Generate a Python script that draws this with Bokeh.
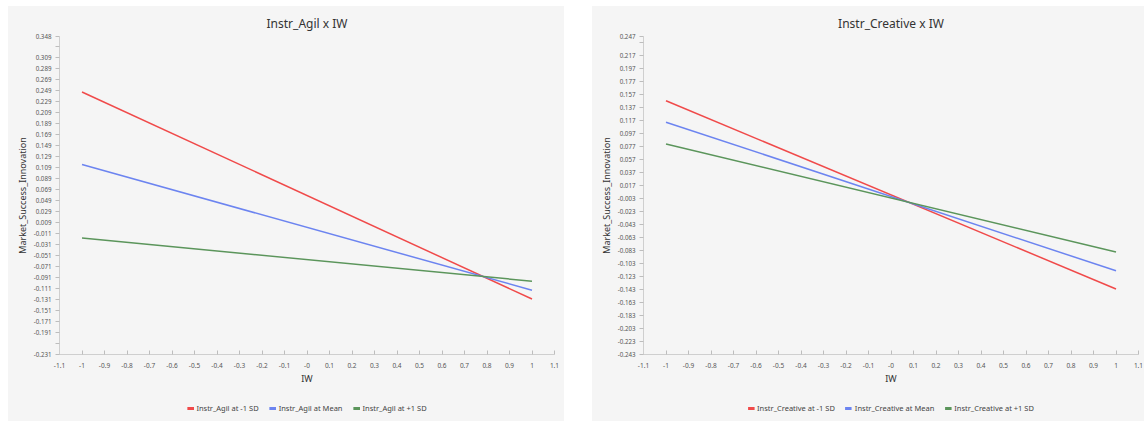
from bokeh.plotting import figure
from bokeh.layouts import row, column, Spacer
from bokeh.models import FixedTicker, Legend, LegendItem, Range1d
from bokeh.embed import file_html
from bokeh.resources import INLINE

# ---- data ----
iw = [-1, 1]

agil_low = [0.247, -0.130]
agil_mean = [0.115, -0.114]
agil_high = [-0.019, -0.0975]

creative_low = [0.148, -0.142]
creative_mean = [0.115, -0.114]
creative_high = [0.0815, -0.085]

x_ticks = [-1.1, -1.0, -0.9, -0.8, -0.7, -0.6, -0.5, -0.4, -0.3, -0.2, -0.1, 0.0,
           0.1, 0.2, 0.3, 0.4, 0.5, 0.6, 0.7, 0.8, 0.9, 1.0, 1.1]
x_labels = ["-1.1", "-1", "-0.9", "-0.8", "-0.7", "-0.6", "-0.5", "-0.4", "-0.3", "-0.2", "-0.1", "-0",
            "0.1", "0.2", "0.3", "0.4", "0.5", "0.6", "0.7", "0.8", "0.9", "1", "1.1"]

agil_y_ticks = [-0.231, -0.211, -0.191, -0.171, -0.151, -0.131, -0.111, -0.091, -0.071, -0.051,
                -0.031, -0.011, 0.009, 0.029, 0.049, 0.069, 0.089, 0.109, 0.129, 0.149,
                0.169, 0.189, 0.209, 0.229, 0.249, 0.269, 0.289, 0.309, 0.329, 0.348]
agil_y_labels = ["-0.231", " ", "-0.191", "-0.171", "-0.151", "-0.131", "-0.111", "-0.091", "-0.071", "-0.051",
                 "-0.031", "-0.011", "0.009", "0.029", "0.049", "0.069", "0.089", "0.109", "0.129", "0.149",
                 "0.169", "0.189", "0.209", "0.229", "0.249", "0.269", "0.289", "0.309", " ", "0.348"]

creative_y_ticks = [-0.243, -0.223, -0.203, -0.183, -0.163, -0.143, -0.123, -0.103, -0.083, -0.063,
                    -0.043, -0.023, -0.003, 0.017, 0.037, 0.057, 0.077, 0.097, 0.117, 0.137,
                    0.157, 0.177, 0.197, 0.217, 0.237, 0.247]
creative_y_labels = ["-0.243", "-0.223", "-0.203", "-0.183", "-0.163", "-0.143", "-0.123", "-0.103", "-0.083", "-0.063",
                     "-0.043", "-0.023", "-0.003", "0.017", "0.037", "0.057", "0.077", "0.097", "0.117", "0.137",
                     "0.157", "0.177", "0.197", "0.217", " ", "0.247"]

colors = ["#f04a4a", "#6c84f0", "#5b955b"]
FONT = "Noto Sans"
BG = "#f5f5f5"


def make_panel(title, name, lows, means, highs, yticks, ylabels, width, border_right):
    p = figure(width=width, height=385, output_backend="svg", toolbar_location=None,
               x_range=Range1d(x_ticks[0], x_ticks[-1]), y_range=Range1d(yticks[0], yticks[-1]),
               min_border_left=51, min_border_right=border_right, min_border_top=30,
               min_border_bottom=37)
    p.background_fill_color = BG
    p.border_fill_color = BG
    p.outline_line_color = None
    p.grid.visible = False

    p.title.text = title
    p.title.align = "center"
    p.title.text_font = FONT
    p.title.text_font_style = "normal"
    p.title.text_font_size = "12px"
    p.title.text_color = "#333333"
    p.title.standoff = 10

    for ax in (p.xaxis[0], p.yaxis[0]):
        ax.axis_line_color = "#cfcfcf"
        ax.major_tick_line_color = "#bdbdbd"
        ax.minor_tick_line_color = None
        ax.major_label_text_font = FONT
        ax.major_label_text_font_size = "6.5px"
        ax.major_label_text_color = "#555555"
        ax.axis_label_text_font = FONT
        ax.axis_label_text_font_style = "normal"
        ax.axis_label_text_color = "#333333"

    xa = p.xaxis[0]
    xa.ticker = FixedTicker(ticks=x_ticks)
    xa.major_label_overrides = dict(zip(x_ticks, x_labels))
    xa.major_tick_in = 4
    xa.major_tick_out = 0
    xa.major_label_standoff = 8
    xa.axis_label = "IW"
    xa.axis_label_text_font_size = "9px"
    xa.axis_label_standoff = 1

    ya = p.yaxis[0]
    ya.ticker = FixedTicker(ticks=yticks)
    ya.major_label_overrides = dict(zip(yticks, ylabels))
    ya.major_label_text_font_size = "6.2px"
    ya.major_tick_in = 0
    ya.major_tick_out = 4
    ya.major_label_standoff = 4
    ya.axis_label = "Market_Success_Innovation"
    ya.axis_label_text_font_size = "9px"
    ya.axis_label_standoff = 2

    series = [lows, means, highs]
    for vals, c in zip(series, colors):
        p.line(iw, vals, line_color=c, line_width=1.5)

    # legend strip below the chart (its swatch lines lie outside its visible range)
    lg = figure(width=width, height=30, output_backend="svg", toolbar_location=None,
                x_axis_type=None, y_axis_type=None, x_range=Range1d(0, 1), y_range=Range1d(5, 6),
                min_border=0)
    lg.background_fill_color = BG
    lg.border_fill_color = BG
    lg.outline_line_color = None
    lg.grid.visible = False
    labels = [f"{name} at -1 SD", f"{name} at Mean", f"{name} at +1 SD"]
    items = []
    for vals, c, lab in zip(series, colors, labels):
        sw = lg.line(iw, vals, line_color=c, line_width=3)
        items.append(LegendItem(label=lab, renderers=[sw]))
    leg = Legend(items=items, orientation="horizontal", location="bottom_center")
    leg.label_text_font = FONT
    leg.label_text_font_size = "7.5px"
    leg.label_text_color = "#444444"
    leg.glyph_width = 7
    leg.glyph_height = 10
    leg.label_height = 10
    leg.label_standoff = 3
    leg.spacing = 10
    leg.padding = 0
    leg.margin = 8
    leg.border_line_color = None
    leg.background_fill_alpha = 0
    lg.add_layout(leg)
    return column(p, lg, spacing=0, styles={"background-color": BG})


p1 = make_panel("Instr_Agil x IW", "Instr_Agil", agil_low, agil_mean, agil_high,
                agil_y_ticks, agil_y_labels, 556, 10)
p2 = make_panel("Instr_Creative x IW", "Instr_Creative", creative_low, creative_mean, creative_high,
                creative_y_ticks, creative_y_labels, 552, 6)

charts = row(Spacer(width=8, height=415), p1, Spacer(width=28, height=415), p2)
layout = column(Spacer(width=1144, height=6), charts)
open("out.html", "w").write(file_html(layout, INLINE))
